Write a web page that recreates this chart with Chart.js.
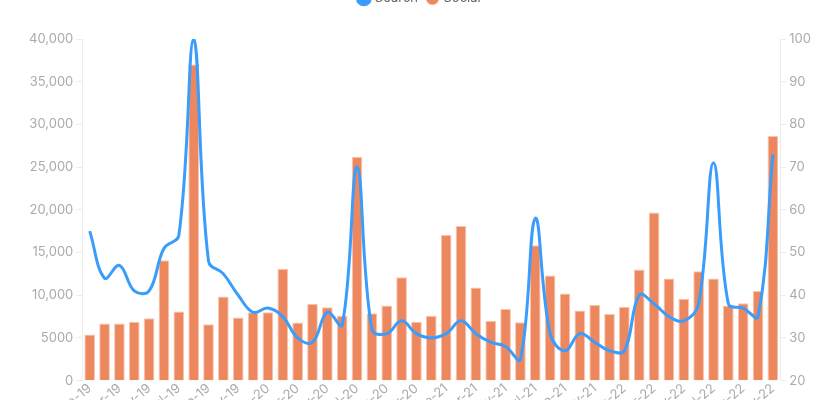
<!DOCTYPE html>
<html>
<head>
<meta charset="utf-8">
<script src="https://cdn.jsdelivr.net/npm/chart.js@4/dist/chart.umd.min.js"></script>
<style>
  html, body { margin: 0; padding: 0; background: #ffffff; overflow: hidden; }
  #wrap { position: absolute; left: 0; top: -18px; width: 840px; height: 441px; }
</style>
</head>
<body>
<div id="wrap"><canvas id="chart" width="840" height="441"></canvas></div>
<script>
// Monthly labels, Jan-19 .. Nov-22
const months = ['Jan','Feb','Mar','Apr','May','Jun','Jul','Aug','Sep','Oct','Nov','Dec'];
const years = ['19','20','21','22'];
const labels = [];
for (const y of years) for (const m of months) labels.push(m + '-' + y);
labels.length = 47;

// Search interest index (right axis)
const searchValues = [
  55, 44, 47, 41, 41, 51, 54, 100, 48, 45, 40, 36,
  37, 35, 30, 29, 36, 33, 70, 32, 31, 34, 31, 30,
  31, 34, 31, 29, 28, 25, 58, 31, 27, 31, 29, 27,
  27, 40, 38, 35, 34, 38, 71, 38, 37, 35, 73
];

// Social mentions (left axis)
const socialValues = [
  5400, 6700, 6700, 6900, 7300, 14100, 8100, 37000, 6600, 9850, 7400, 8000,
  8000, 13100, 6800, 9000, 8600, 7600, 26200, 7900, 8800, 12100, 6900, 7600,
  17050, 18100, 10900, 7000, 8400, 6850, 15850, 12300, 10200, 8200, 8850, 7800,
  8650, 13000, 19700, 11950, 9600, 12800, 11950, 8800, 9050, 10500, 28650
];

const leftTicks = { min: 0, max: 40000, step: 5000 };
const rightTicks = { min: 20, max: 100, step: 10 };

const tickColor = '#ababab';
const axisColor = '#ececec';
const font = { family: 'Inter, "Noto Sans", sans-serif', size: 13 };

// extra room between the legend and the plot area
const legendGap = {
  id: 'legendGap',
  beforeInit(chart) {
    const fit = chart.legend.fit;
    chart.legend.fit = function () {
      fit.bind(chart.legend)();
      this.height += 24;
    };
  }
};

new Chart(document.getElementById('chart'), {
  data: {
    labels: labels,
    datasets: [
      {
        type: 'line',
        label: 'Search',
        data: searchValues,
        yAxisID: 'y1',
        borderColor: '#3a9cfb',
        backgroundColor: '#3a9cfb',
        borderWidth: 3,
        tension: 0.4,
        pointRadius: 0,
        fill: false
      },
      {
        type: 'bar',
        label: 'Social',
        data: socialValues,
        yAxisID: 'y',
        backgroundColor: '#ed875e',
        borderColor: '#f6c6b1',
        borderWidth: 1
      }
    ]
  },
  options: {
    responsive: false,
    animation: false,
    layout: { padding: { left: 26, right: 26, top: 0, bottom: 0 } },
    plugins: {
      legend: {
        position: 'top',
        labels: {
          usePointStyle: true,
          pointStyle: 'circle',
          boxWidth: 9,
          boxHeight: 9,
          color: '#666666',
          font: { family: font.family, size: 13 }
        }
      },
      tooltip: { enabled: false }
    },
    scales: {
      x: {
        grid: { display: false, drawTicks: false },
        border: { display: false },
        ticks: { color: tickColor, font: font, padding: 0, maxRotation: 40, minRotation: 40 }
      },
      y: {
        position: 'left',
        min: leftTicks.min,
        max: leftTicks.max,
        grid: { drawOnChartArea: false, color: axisColor, tickLength: 6 },
        border: { color: axisColor },
        ticks: {
          stepSize: leftTicks.step,
          color: tickColor,
          font: font,
          callback: v => v >= 10000 ? v.toLocaleString('en-US') : String(v)
        }
      },
      y1: {
        position: 'right',
        min: rightTicks.min,
        max: rightTicks.max,
        grid: { drawOnChartArea: false, color: axisColor, tickLength: 6 },
        border: { color: axisColor },
        ticks: { stepSize: rightTicks.step, color: tickColor, font: font }
      }
    }
  },
  plugins: [legendGap]
});
</script>
</body>
</html>
